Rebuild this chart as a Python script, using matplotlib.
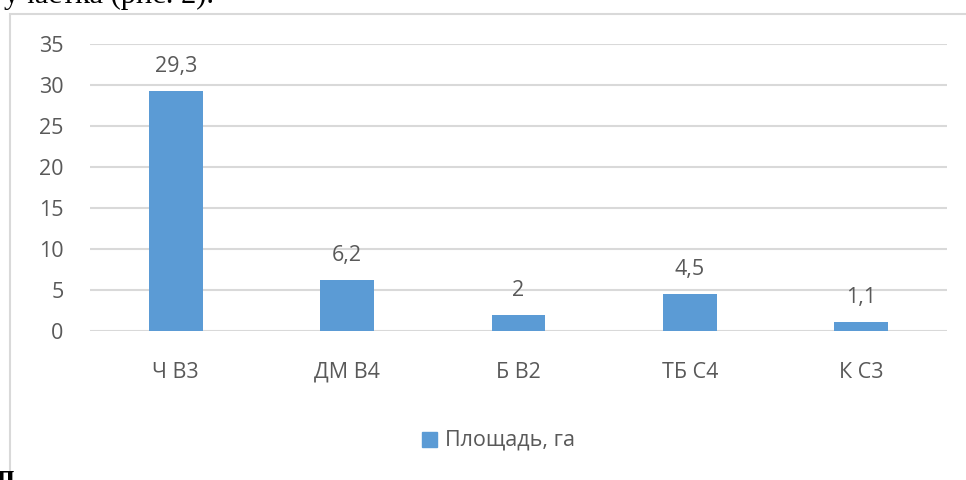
import matplotlib
matplotlib.use("Agg")
from matplotlib import pyplot as plt
from matplotlib.patches import Rectangle

categories = ["Ч В3", "ДМ В4", "Б В2", "ТБ С4", "К С3"]
area = [29.3, 6.2, 2, 4.5, 1.1]
value_labels = ["29,3", "6,2", "2", "4,5", "1,1"]
y_ticks = [0, 5, 10, 15, 20, 25, 30, 35]
series_name = "Площадь, га"

bar_color = "#5B9BD5"
text_color = "#595959"
grid_color = "#D9D9D9"

plt.rcParams['font.family'] = ['Open Sans', 'DejaVu Sans']

fig = plt.figure(figsize=(9.66, 4.8), dpi=100)
W, H = 966, 480

# chart frame (cropped on right and bottom)
fig.patches.append(Rectangle((9.5 / W, -0.1), 1.2, 1 - 14 / H + 0.1,
                             transform=fig.transFigure, fill=False,
                             edgecolor=grid_color, linewidth=1.5))

# cropped document text around the chart
fig.text(0.004, 1 - 2.5 / H, "участка (рис. 2).", fontsize=22, family="Liberation Serif",
         color="black", va="baseline", ha="left")
fig.text(-0.004, -0.012, "п", fontsize=22, family="Liberation Serif",
         color="black", va="baseline", ha="left", weight="bold")

ax = fig.add_axes([90 / W, 1 - 331 / H, (947 - 90) / W, (331 - 44) / H])
x = list(range(len(categories)))
bars = ax.bar(x, area, width=0.315, color=bar_color, zorder=3)

for xi, v, lab in zip(x, area, value_labels):
    ax.annotate(lab, (xi, v), xytext=(0, 10), textcoords="offset points",
                ha="center", va="bottom", fontsize=15.5, color=text_color)

ax.set_xlim(-0.5, len(categories) - 0.5)
ax.set_ylim(0, 35)
ax.set_yticks(y_ticks)
ax.set_xticks(x)
ax.set_xticklabels(categories)
ax.tick_params(axis="both", length=0, labelsize=15.5, colors=text_color)
ax.tick_params(axis="y", pad=19)
ax.tick_params(axis="x", pad=22)
ax.grid(axis="y", color=grid_color, linewidth=1.5, zorder=0)
for s in ax.spines.values():
    s.set_visible(False)

# legend
fig.patches.append(Rectangle((422 / W, 1 - 447 / H), 15 / W, 15 / H,
                             transform=fig.transFigure, color=bar_color))
fig.text(445 / W, 1 - 440 / H, series_name, fontsize=15.5, color=text_color,
         va="center", ha="left")

fig.savefig("out.png", dpi=100)
